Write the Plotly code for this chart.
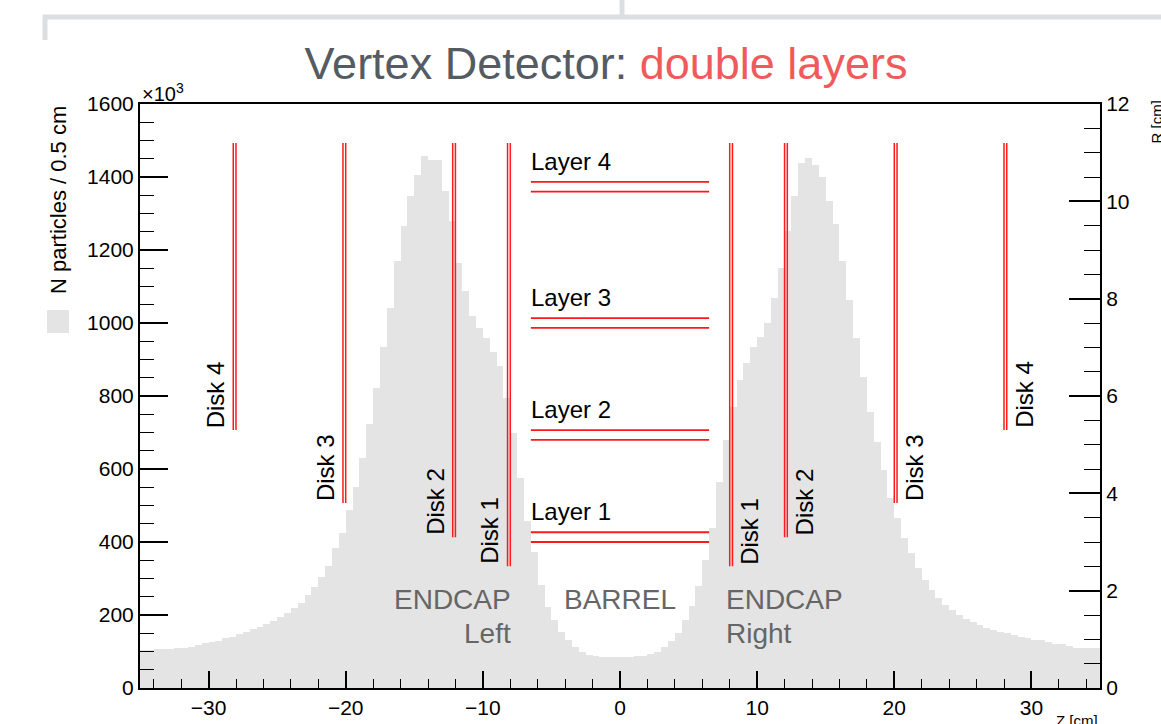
import numpy as np
import plotly.graph_objects as go

# ---------------------------------------------------------------------------
# Hit distribution along Z, 0.5 cm bins from -35 to +35 cm (units of 10^3)
# ---------------------------------------------------------------------------
BIN_LOW = -35.0
BIN_WIDTH = 0.5
counts_k = [
    104, 105, 106, 107, 108, 109, 110, 113, 117, 123,
    127, 130, 137, 141, 147, 154, 162, 168, 175, 184,
    194, 205, 218, 234, 255, 278, 305, 335, 383, 426,
    488, 552, 629, 724, 823, 934, 1040, 1170, 1266, 1348,
    1405, 1458, 1447, 1447, 1362, 1280, 1165, 1088, 1020, 987,
    958, 920, 881, 795, 699, 574, 458, 372, 281, 223,
    186, 154, 131, 113, 100, 90, 88, 86, 86, 86,
    86, 86, 87, 88, 92, 100, 112, 130, 152, 185,
    225, 280, 350, 439, 564, 679, 771, 843, 891, 934,
    963, 1001, 1069, 1150, 1251, 1348, 1439, 1453, 1434, 1400,
    1333, 1271, 1170, 1064, 958, 853, 756, 674, 598, 521,
    465, 410, 369, 328, 296, 268, 246, 227, 214, 200,
    188, 182, 173, 164, 159, 154, 150, 145, 141, 136,
    132, 132, 127, 121, 121, 115, 109, 109, 109, 109,
]
bin_centers = BIN_LOW + BIN_WIDTH * (np.arange(len(counts_k)) + 0.5)

# ---------------------------------------------------------------------------
# Detector geometry (cm): forward/backward disks and barrel layers
# ---------------------------------------------------------------------------
disk_names = ["Disk 1", "Disk 2", "Disk 3", "Disk 4"]
disk_z = [8.1, 12.1, 20.1, 28.1]
disk_r_min = [2.5, 3.1, 3.8, 5.3]
disk_r_max = [11.2, 11.2, 11.2, 11.2]
disk_plane_gap = 0.2          # the two sensor planes of each double disk

layer_names = ["Layer 1", "Layer 2", "Layer 3", "Layer 4"]
layer_r_inner = [3.0, 5.1, 7.4, 10.2]
layer_r_outer = [3.2, 5.3, 7.6, 10.4]
layer_half_length = 6.5

# Region captions: (text, z, R, anchor)
region_labels = [
    ("ENDCAP", -7.8, 1.81, "right"),
    ("Left", -7.8, 1.11, "right"),
    ("BARREL", 0.0, 1.81, "center"),
    ("ENDCAP", 7.6, 1.81, "left"),
    ("Right", 7.6, 1.11, "left"),
]

# ---------------------------------------------------------------------------
W, H = 1161, 724
ML, MR, MT, MB = 140, 61, 104, 36
PW, PH = W - ML - MR, H - MT - MB


def px_x(x):
    return (x - ML) / PW


def px_y(y):
    return (H - MB - y) / PH


FONT = "Liberation Sans, Arial, sans-serif"
RED = "#ff1a1a"
HIST_FILL = "#e4e4e4"

fig = go.Figure()

fig.add_trace(go.Bar(
    x=bin_centers, y=counts_k, width=BIN_WIDTH,
    marker=dict(color=HIST_FILL, line=dict(width=0)),
    showlegend=False, hoverinfo="skip",
))

# Disk planes: two thin sensor planes per disk, on both sides of the IP
dx, dy = [], []
for z, r0, r1 in zip(disk_z, disk_r_min, disk_r_max):
    for side in (-1, 1):
        for off in (-disk_plane_gap / 2, disk_plane_gap / 2):
            dx += [side * z + off, side * z + off, None]
            dy += [r0, r1, None]
fig.add_trace(go.Scatter(
    x=dx, y=dy, mode="lines", yaxis="y2",
    line=dict(color=RED, width=1.5),
    showlegend=False, hoverinfo="skip",
))

# Barrel double layers
lx, ly = [], []
for ri, ro in zip(layer_r_inner, layer_r_outer):
    for r in (ri, ro):
        lx += [-layer_half_length, layer_half_length, None]
        ly += [r, r, None]
fig.add_trace(go.Scatter(
    x=lx, y=ly, mode="lines", yaxis="y2",
    line=dict(color=RED, width=1.8),
    showlegend=False, hoverinfo="skip",
))

annotations = []

# Layer labels above each double layer
for name, ro in zip(layer_names, layer_r_outer):
    annotations.append(dict(
        x=-layer_half_length, y=ro, xref="x", yref="y2",
        text=name, showarrow=False, xanchor="left", yanchor="bottom",
        xshift=-2, yshift=5,
        font=dict(family=FONT, size=24, color="black"),
    ))

# Disk labels, vertical, sitting at the inner radius of each disk
for name, z, r0 in zip(disk_names, disk_z, disk_r_min):
    annotations.append(dict(
        x=-z - disk_plane_gap / 2, y=r0, xref="x", yref="y2",
        text=name, showarrow=False, textangle=-90,
        xanchor="right", yanchor="bottom", xshift=-2,
        font=dict(family=FONT, size=24, color="black"),
    ))
    annotations.append(dict(
        x=z + disk_plane_gap / 2, y=r0, xref="x", yref="y2",
        text=name, showarrow=False, textangle=-90,
        xanchor="left", yanchor="bottom", xshift=2,
        font=dict(family=FONT, size=24, color="black"),
    ))

for text, z, r, anchor in region_labels:
    annotations.append(dict(
        x=z, y=r, xref="x", yref="y2", text=text, showarrow=False,
        xanchor=anchor, yanchor="middle",
        font=dict(family=FONT, size=28, color="#666666"),
    ))

# Axis decorations
annotations += [
    dict(x=px_x(58), y=px_y(200), xref="paper", yref="paper",
         text="N particles / 0.5 cm", textangle=-90, showarrow=False,
         xanchor="center", yanchor="middle",
         font=dict(family=FONT, size=22, color="black")),
    dict(x=0, y=1, xref="paper", yref="paper",
         text="×10<sup>3</sup>", showarrow=False,
         xanchor="left", yanchor="bottom", yshift=-3,
         font=dict(family=FONT, size=20, color="black")),
    dict(x=1, y=px_y(720), xref="paper", yref="paper",
         text="Z [cm]", showarrow=False, xanchor="right", yanchor="middle",
         font=dict(family=FONT, size=15, color="black")),
    dict(x=px_x(1156), y=1, xref="paper", yref="paper",
         text="R [cm]", showarrow=False, textangle=-90,
         xanchor="center", yanchor="top", yshift=5,
         font=dict(family=FONT, size=15, color="black")),
]

LINE_GREY = "#dddee0"
shapes = [
    # legend swatch next to the y title
    dict(type="rect", xref="paper", yref="paper",
         x0=px_x(47), x1=px_x(69), y0=px_y(333), y1=px_y(310),
         fillcolor=HIST_FILL, line=dict(width=0)),
    # frame decoration at the top of the page
    dict(type="line", xref="paper", yref="paper",
         x0=px_x(43), x1=px_x(1165), y0=px_y(17), y1=px_y(17),
         line=dict(color=LINE_GREY, width=5)),
    dict(type="line", xref="paper", yref="paper",
         x0=px_x(45), x1=px_x(45), y0=px_y(15), y1=px_y(40),
         line=dict(color=LINE_GREY, width=5)),
    dict(type="line", xref="paper", yref="paper",
         x0=px_x(622), x1=px_x(622), y0=px_y(-2), y1=px_y(17),
         line=dict(color=LINE_GREY, width=5)),
]

tick_font = dict(family=FONT, size=21, color="black")

fig.update_layout(
    width=W, height=H,
    margin=dict(l=ML, r=MR, t=MT, b=MB, autoexpand=False),
    paper_bgcolor="white", plot_bgcolor="white",
    bargap=0, showlegend=False,
    title=dict(
        text="Vertex Detector: <span style='color:#ef5b5b'>double layers</span>",
        x=606 / W, xanchor="center", xref="container",
        y=1 - 63 / H, yanchor="middle", yref="container",
        font=dict(family=FONT, size=45, color="#555b63"),
    ),
    xaxis=dict(
        range=[-35, 35], tick0=-30, dtick=10,
        ticks="inside", ticklen=17, tickwidth=1.6, tickcolor="black",
        minor=dict(dtick=2, ticks="inside", ticklen=9, tickwidth=1.4,
                   tickcolor="black"),
        showline=True, linewidth=2, linecolor="black", mirror=True,
        showgrid=False, zeroline=False, tickfont=tick_font,
    ),
    yaxis=dict(
        range=[0, 1600], dtick=200,
        ticks="inside", ticklen=28, tickwidth=1.6, tickcolor="black",
        minor=dict(dtick=50, ticks="inside", ticklen=14, tickwidth=1.4,
                   tickcolor="black"),
        showline=True, linewidth=2, linecolor="black",
        showgrid=False, zeroline=False, tickfont=tick_font,
    ),
    yaxis2=dict(
        range=[0, 12], dtick=2, overlaying="y", side="right",
        ticks="inside", ticklen=31, tickwidth=1.6, tickcolor="black",
        minor=dict(dtick=0.5, ticks="inside", ticklen=16, tickwidth=1.4,
                   tickcolor="black"),
        showline=True, linewidth=2, linecolor="black",
        showgrid=False, zeroline=False, tickfont=tick_font,
    ),
    annotations=annotations,
    shapes=shapes,
)

fig.write_html("out.html")
